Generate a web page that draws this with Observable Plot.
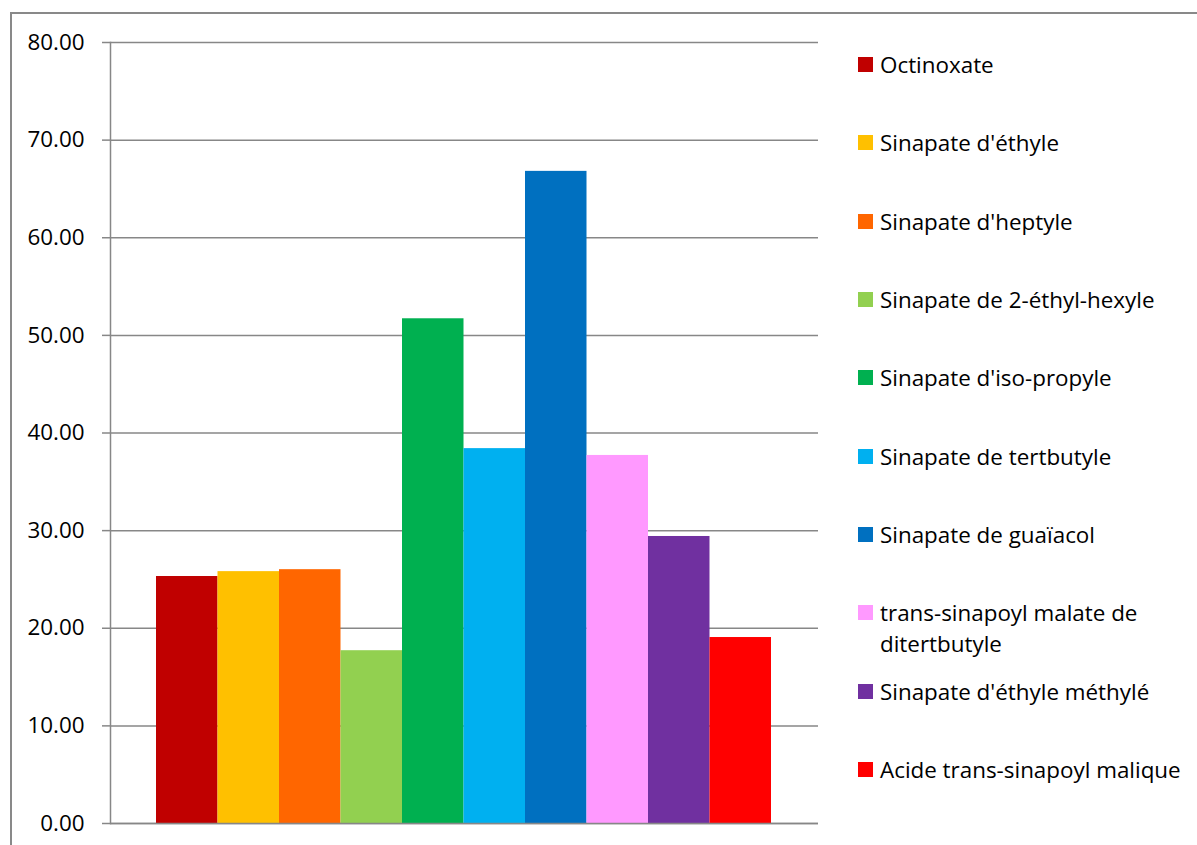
<!DOCTYPE html>
<html><head><meta charset="utf-8">
<script src="https://cdn.jsdelivr.net/npm/d3@7"></script>
<script src="https://cdn.jsdelivr.net/npm/@observablehq/plot@0.6"></script>
<style>
body{margin:0;background:#fff;font-family:"Open Sans",sans-serif;}
#wrap{position:relative;width:1197px;height:845px;overflow:hidden;}
#border{position:absolute;left:10px;top:12px;width:1300px;height:900px;border-top:2px solid #898989;border-left:2px solid #898989;}
#chart{position:absolute;left:0;top:0;}
.item{position:absolute;left:858px;display:flex;align-items:flex-start;font-family:"Open Sans",sans-serif;font-size:22.4px;line-height:31px;color:#000;}
.sw{width:15px;height:15px;margin-top:8px;margin-right:7px;flex:none;}
.lt{max-width:318px;}
</style>
</head><body>
<div id="wrap"><div id="border"></div><div id="chart"></div></div>
<script>
const names = ["Octinoxate","Sinapate d'éthyle","Sinapate d'heptyle","Sinapate de 2-éthyl-hexyle","Sinapate d'iso-propyle","Sinapate de tertbutyle","Sinapate de guaïacol","trans-sinapoyl malate de ditertbutyle","Sinapate d'éthyle méthylé","Acide trans-sinapoyl malique"];
const values = [25.3, 25.8, 26.0, 17.7, 51.7, 38.4, 66.8, 37.7, 29.4, 19.05];
const colors = ["#C00000","#FFC000","#FF6600","#92D050","#00B050","#00B0F0","#0070C0","#FF99FF","#7030A0","#FF0000"];
const yTicks = [0,10,20,30,40,50,60,70,80];

const data = names.map((name,i)=>({name, value: values[i]}));
const grid = "#878787";
const chart = Plot.plot({
  width:1197, height:845,
  marginTop:42, marginBottom:22, marginLeft:110, marginRight:379,
  style:{fontFamily:"'Open Sans', sans-serif", fontSize:"22.4px", color:"#000", background:"transparent", overflow:"visible"},
  x:{domain:names, range:[156,771], padding:0, round:false, axis:null},
  y:{domain:[0,80]},
  color:{domain:names, range:colors},
  marks:[
    Plot.ruleY(yTicks, {stroke:grid, strokeWidth:1.5}),
    Plot.barY(data, {x:"name", y:"value", fill:"name"}),
    Plot.ruleY([0], {stroke:grid, strokeWidth:1.5}),
    Plot.frame({anchor:"left", stroke:grid, strokeWidth:1.5}),
    Plot.axisY(yTicks, {tickSize:8, tickPadding:18, tickFormat:d=>d.toFixed(2), stroke:grid, strokeWidth:1.5, fill:"#000", label:null})
  ]
});
document.getElementById("chart").appendChild(chart);

const wrap = document.getElementById("wrap");
names.forEach((n,i)=>{
  const c = 64.5 + 78.33*i;
  const it = document.createElement("div");
  it.className = "item";
  it.style.top = (c-15.5)+"px";
  const sw = document.createElement("div");
  sw.className = "sw"; sw.style.background = colors[i];
  const t = document.createElement("div");
  t.className = "lt"; t.textContent = n;
  it.appendChild(sw); it.appendChild(t);
  wrap.appendChild(it);
});
</script>
</body></html>
